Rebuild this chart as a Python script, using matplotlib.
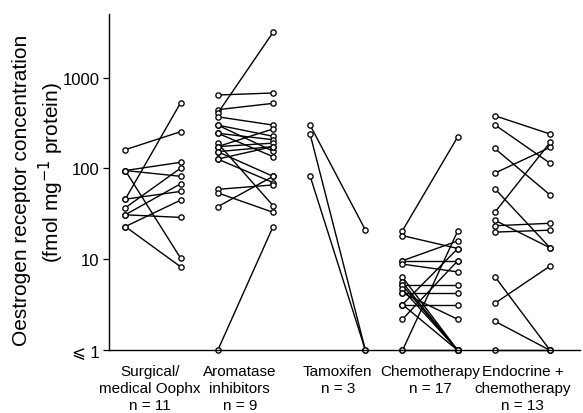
import matplotlib
matplotlib.use("Agg")
import matplotlib.pyplot as plt
import numpy as np

plt.rcParams['font.family'] = ['Liberation Sans', 'DejaVu Sans']

groups = ["Surgical/\nmedical Oophx\nn = 11", "Aromatase\ninhibitors\nn = 9",
          "Tamoxifen\nn = 3", "Chemotherapy\nn = 17", "Endocrine +\nchemotherapy\nn = 13"]

# paired values (before, after) in fmol/mg protein; 1 means <= 1
oophx_before = [161, 95, 95, 95, 46, 46, 37, 31, 31, 23, 23]
oophx_after  = [254, 117, 82, 10.3, 530, 56, 101, 68, 29, 45, 8.3]

ai_before = [642, 443, 404, 370, 300, 300, 244, 244, 190, 174, 174, 153, 153, 127, 127, 59, 54, 38, 1]
ai_after  = [676, 520, 3140, 300, 226, 155, 207, 135, 39, 272, 190, 174, 82, 174, 70, 66, 33, 82, 23]

tam_before = [300, 240, 83]
tam_after  = [21, 1, 1]

chemo_before = [20.7, 18.3, 9.7, 9.7, 8.9, 6.4, 5.6, 5.2, 5.2, 4.7, 4.3, 4.3, 3.2, 3.2, 2.2, 1, 1, 3.2]
chemo_after  = [224, 13.2, 16, 9.7, 7.3, 1, 1, 1, 5.2, 1, 4.3, 2.2, 3.2, 13.2, 9.7, 20.7, 1, 1]

endo_before = [380, 302, 166, 89, 60, 33, 27, 23.5, 20, 6.5, 3.3, 2.1, 1]
endo_after  = [239, 114, 51, 171, 13.4, 194, 13.4, 25, 21, 1, 8.5, 1, 1]

ytick_vals = [1, 10, 100, 1000]
ytick_labels = ["\u2a7d 1", "10", "100", "1000"]

ylabel_line1 = "Oestrogen receptor concentration"
ylabel_line2 = "(fmol mg$^{-1}$ protein)"

pairs = [(oophx_before, oophx_after), (ai_before, ai_after), (tam_before, tam_after),
         (chemo_before, chemo_after), (endo_before, endo_after)]

fig = plt.figure(figsize=(5.83, 4.14), dpi=100)
ax = fig.add_axes([0.1875, 0.151, 0.807, 0.813])

half = 0.3
for i, (b, a) in enumerate(pairs):
    for vb, va in zip(b, a):
        ax.plot([i - half, i + half], [vb, va], color='black', lw=1.0,
                marker='o', ms=3.8, mfc='white', mec='black', mew=0.95,
                solid_capstyle='round', zorder=2, clip_on=False)

ax.set_yscale('log')
ax.set_ylim(1, 5000)
ax.set_xlim(-0.473, 4.62)
ax.set_yticks(ytick_vals)
ax.set_yticklabels(ytick_labels)
ax.yaxis.set_minor_locator(matplotlib.ticker.NullLocator())
ax.set_xticks([-0.03, 0.94, 2.0, 3.0, 4.0])
ax.set_xticklabels(groups, fontsize=11, linespacing=1.25)
ax.tick_params(axis='x', length=0, pad=10)
ax.tick_params(axis='y', length=4, width=0.9, pad=3, labelsize=12)

for s in ['top', 'right']:
    ax.spines[s].set_visible(False)
for s in ['left', 'bottom']:
    ax.spines[s].set_linewidth(1.0)

fig.text(0.0377, 0.541, ylabel_line1, rotation=90, ha='center', va='center', fontsize=15)
fig.text(0.0875, 0.582, ylabel_line2, rotation=90, ha='center', va='center', fontsize=15)

fig.savefig("out.png", dpi=100)
